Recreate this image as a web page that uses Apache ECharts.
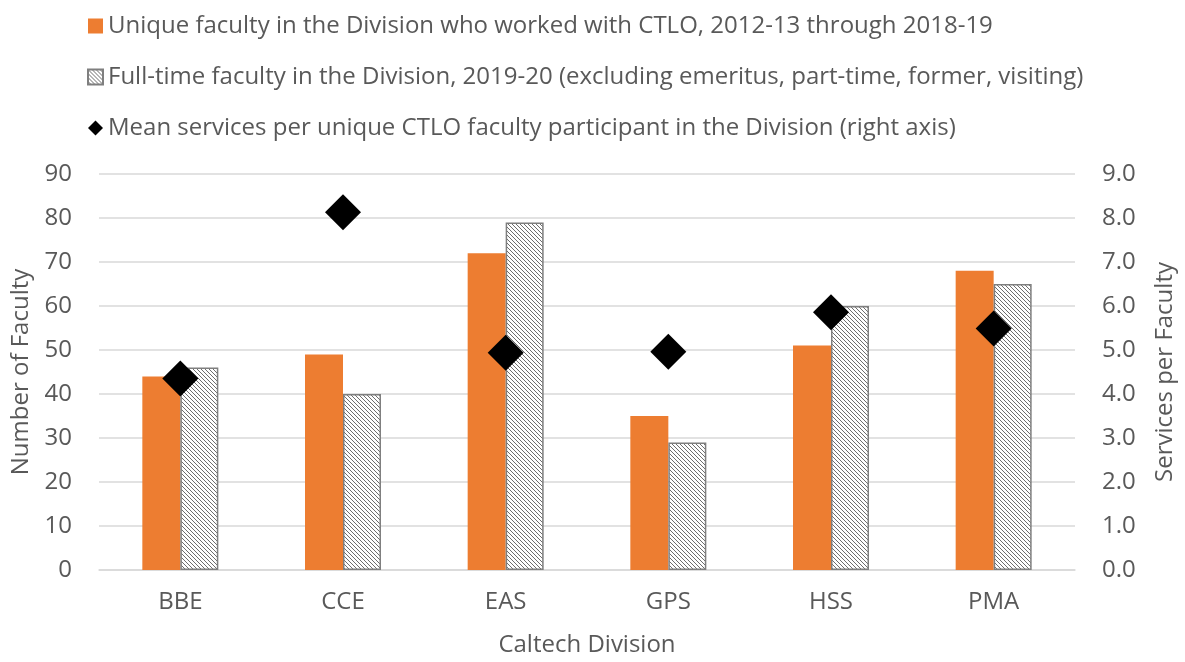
<!DOCTYPE html>
<html>
<head>
<meta charset="utf-8">
<script src="https://cdn.jsdelivr.net/npm/echarts@6/dist/echarts.min.js"></script>
<style>
  html, body { margin: 0; padding: 0; background: #fff; }
  #chart { width: 1185px; height: 662px; }
</style>
</head>
<body>
<div id="chart"></div>
<script>
// data
var divisions = ['BBE', 'CCE', 'EAS', 'GPS', 'HSS', 'PMA'];
var uniqueFaculty = [44, 49, 72, 35, 51, 68];
var fullTimeFaculty = [46, 40, 79, 29, 60, 65];
var meanServices = [4.35, 8.13, 4.94, 4.96, 5.86, 5.49];

var seriesNames = [
    'Unique faculty in the Division who worked with CTLO, 2012-13 through 2018-19',
    'Full-time faculty in the Division, 2019-20 (excluding emeritus, part-time, former, visiting)',
    'Mean services per unique CTLO faculty participant in the Division (right axis)'
];

(function () {
    // hatch pattern for the full-time bars
    var hatch = document.createElement('canvas');
    hatch.width = 4;
    hatch.height = 4;
    var ctx = hatch.getContext('2d');
    ctx.fillStyle = '#fff';
    ctx.fillRect(0, 0, 4, 4);
    ctx.strokeStyle = '#6e6e6e';
    ctx.lineWidth = 1;
    ctx.beginPath();
    ctx.moveTo(-1, -1); ctx.lineTo(5, 5);
    ctx.moveTo(-1, 3); ctx.lineTo(1, 5);
    ctx.moveTo(3, -1); ctx.lineTo(5, 1);
    ctx.stroke();

    var font = 'Open Sans';
    var fs = 24;
    var txt = '#595959';
    var gridColor = '#d9d9d9';

    var myChart = echarts.init(document.getElementById('chart'));
    var option = {
        backgroundColor: '#fff',
        textStyle: { fontFamily: font },
        legend: {
            orient: 'vertical',
            left: 82,
            top: 9,
            itemGap: 27,
            itemWidth: 15,
            itemHeight: 15,
            textStyle: { color: txt, fontSize: fs, fontFamily: font, lineHeight: 24 },
            data: [
                { name: seriesNames[0], icon: 'rect' },
                { name: seriesNames[1], icon: 'rect' },
                { name: seriesNames[2], icon: 'diamond', itemStyle: { opacity: 1 } }
            ]
        },
        grid: {
            left: 99,
            right: 106,
            top: 174,
            bottom: 91,
            containLabel: false
        },
        xAxis: {
            type: 'category',
            data: divisions,
            name: 'Caltech Division',
            nameLocation: 'middle',
            nameGap: 63,
            nameTextStyle: { color: txt, fontSize: fs, fontFamily: font },
            axisTick: { show: false },
            axisLine: { lineStyle: { color: gridColor, width: 1.5 } },
            axisLabel: { color: txt, fontSize: fs, fontFamily: font, margin: 20 }
        },
        yAxis: [{
            type: 'value',
            min: 0,
            max: 90,
            interval: 10,
            name: 'Number of Faculty',
            nameLocation: 'middle',
            nameGap: 64,
            nameTextStyle: { color: txt, fontSize: fs, fontFamily: font },
            axisLabel: { color: txt, fontSize: fs, fontFamily: font, margin: 27 },
            splitLine: { lineStyle: { color: gridColor, width: 1.5 } }
        }, {
            type: 'value',
            min: 0,
            max: 9,
            interval: 1,
            name: 'Services per Faculty',
            nameLocation: 'middle',
            nameGap: 78,
            nameTextStyle: { color: txt, fontSize: fs, fontFamily: font },
            axisLabel: {
                color: txt, fontSize: fs, fontFamily: font, margin: 27,
                formatter: function (v) { return v.toFixed(1); }
            },
            splitLine: { show: false }
        }],
        series: [{
            name: seriesNames[0],
            type: 'bar',
            data: uniqueFaculty,
            barWidth: 38,
            barGap: '0%',
            itemStyle: { color: '#ed7d31' }
        }, {
            name: seriesNames[1],
            type: 'bar',
            data: fullTimeFaculty,
            barWidth: 38,
            barGap: '0%',
            itemStyle: {
                color: { image: hatch, repeat: 'repeat' },
                borderColor: '#7f7f7f',
                borderWidth: 1.5
            }
        }, {
            name: seriesNames[2],
            type: 'scatter',
            yAxisIndex: 1,
            data: meanServices,
            symbol: 'diamond',
            symbolSize: 36,
            z: 5,
            itemStyle: { color: '#000', opacity: 1 }
        }]
    };
    myChart.setOption(option);

    window.addEventListener('resize', function () {
        myChart.resize();
    });
})();
</script>
</body>
</html>
